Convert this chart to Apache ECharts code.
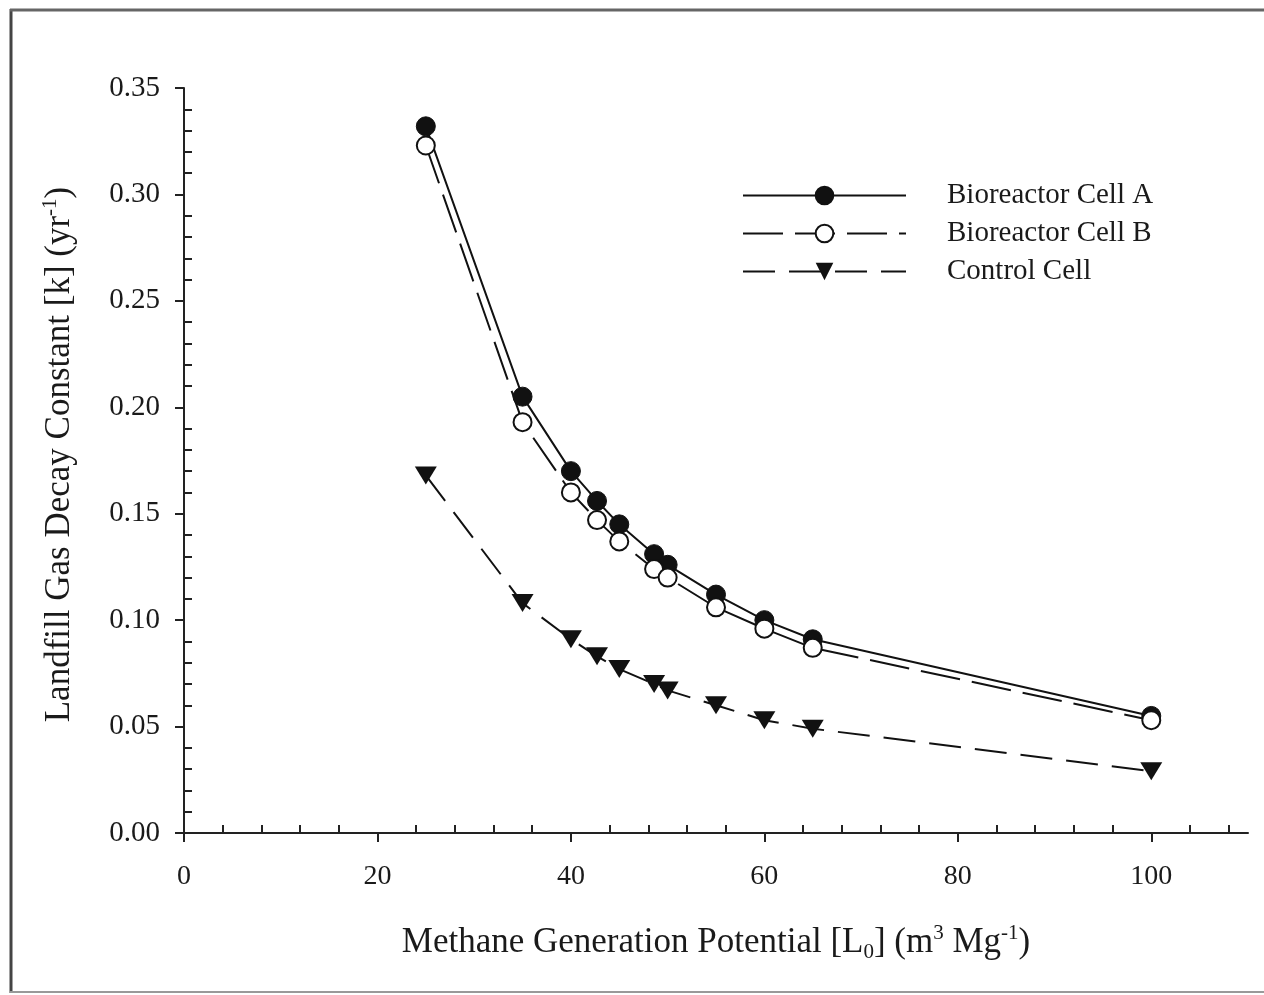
<!DOCTYPE html>
<html>
<head>
<meta charset="utf-8">
<script src="https://cdn.jsdelivr.net/npm/echarts@6/dist/echarts.min.js"></script>
<style>
html,body{margin:0;padding:0;background:#fff;}
#chart{width:1264px;height:995px;}
</style>
</head>
<body>
<div id="chart"></div>
<script>
// Data
const lValues = [25, 35, 40, 42.7, 45, 48.6, 50, 55, 60, 65, 100];
const cellA = [0.332, 0.205, 0.170, 0.156, 0.145, 0.131, 0.126, 0.112, 0.100, 0.091, 0.055];
const cellB = [0.323, 0.193, 0.160, 0.147, 0.137, 0.124, 0.120, 0.106, 0.096, 0.087, 0.053];
const controlCell = [0.168, 0.108, 0.091, 0.083, 0.077, 0.070, 0.067, 0.060, 0.053, 0.049, 0.029];
const seriesNames = ['Bioreactor Cell A', 'Bioreactor Cell B', 'Control Cell'];

// Tick positions
const xMajorTicks = [0, 20, 40, 60, 80, 100];
const xMinorTicks = [4, 8, 12, 16, 24, 28, 32, 36, 44, 48, 52, 56, 64, 68, 72, 76, 84, 88, 92, 96, 104, 108];
const yMajorTicks = [0, 0.05, 0.10, 0.15, 0.20, 0.25, 0.30, 0.35];
const yMinorTicks = [0.01, 0.02, 0.03, 0.04, 0.06, 0.07, 0.08, 0.09, 0.11, 0.12, 0.13, 0.14,
  0.16, 0.17, 0.18, 0.19, 0.21, 0.22, 0.23, 0.24, 0.26, 0.27, 0.28, 0.29, 0.31, 0.32, 0.33, 0.34];

function pairs(xs, ys) { return xs.map((x, i) => [x, ys[i]]); }

const FONT = '"Liberation Serif", "Times New Roman", serif';
const X_MIN = 0, X_MAX = 110, Y_MIN = 0, Y_MAX = 0.35;

const chart = echarts.init(document.getElementById('chart'), null, {renderer: 'canvas'});
chart.setOption({
  backgroundColor: '#ffffff',
  animation: false,
  textStyle: {fontFamily: FONT, color: '#1a1a1a'},
  grid: {left: 184, top: 88, width: 1064, height: 745, containLabel: false},
  legend: {
    orient: 'vertical',
    left: 737,
    top: 176,
    itemWidth: 163,
    itemHeight: 22,
    itemGap: 9,
    data: seriesNames,
    textStyle: {fontFamily: FONT, fontSize: 29, color: '#1a1a1a', padding: [0, 0, 0, 36], lineHeight: 22}
  },
  xAxis: [
    {
      type: 'value', min: X_MIN, max: X_MAX, interval: 20, position: 'bottom',
      axisLine: {show: true, onZero: false, lineStyle: {color: '#222', width: 2}},
      axisTick: {show: true, inside: false, length: 9, customValues: xMajorTicks, lineStyle: {color: '#222', width: 2}},
      axisLabel: {show: true, customValues: xMajorTicks, margin: 30, fontFamily: FONT, fontSize: 28, color: '#1a1a1a'},
      splitLine: {show: false},
      name: 'Methane Generation Potential [L{sub|0}] (m{sup|3} Mg{sup|-1})',
      nameLocation: 'middle',
      nameGap: 90,
      nameTextStyle: {
        fontFamily: FONT, fontSize: 35, color: '#1a1a1a', lineHeight: 40,
        rich: {
          sup: {fontFamily: FONT, fontSize: 21, verticalAlign: 'top', lineHeight: 24, color: '#1a1a1a'},
          sub: {fontFamily: FONT, fontSize: 21, verticalAlign: 'bottom', lineHeight: 24, color: '#1a1a1a'}
        }
      }
    },
    {
      type: 'value', min: X_MIN, max: X_MAX, position: 'bottom', gridIndex: 0,
      axisLine: {show: false, onZero: false},
      axisTick: {show: true, inside: true, length: 8, customValues: xMinorTicks, lineStyle: {color: '#222', width: 2}},
      axisLabel: {show: false},
      splitLine: {show: false}
    }
  ],
  yAxis: [
    {
      type: 'value', min: Y_MIN, max: Y_MAX, interval: 0.05, position: 'left',
      axisLine: {show: true, onZero: false, lineStyle: {color: '#222', width: 2}},
      axisTick: {show: true, inside: false, length: 9, customValues: yMajorTicks, lineStyle: {color: '#222', width: 2}},
      axisLabel: {show: true, customValues: yMajorTicks, margin: 24, fontFamily: FONT, fontSize: 29, color: '#1a1a1a',
        formatter: v => Number(v).toFixed(2)},
      splitLine: {show: false},
      name: 'Landfill Gas Decay Constant [k] (yr{sup|-1})',
      nameLocation: 'middle',
      nameGap: 104,
      nameTextStyle: {
        fontFamily: FONT, fontSize: 35, color: '#1a1a1a', lineHeight: 40,
        padding: [0, 0, 0, 12],
        rich: {
          sup: {fontFamily: FONT, fontSize: 21, verticalAlign: 'top', lineHeight: 24, color: '#1a1a1a'}
        }
      }
    },
    {
      type: 'value', min: Y_MIN, max: Y_MAX, position: 'left', gridIndex: 0,
      axisLine: {show: false, onZero: false},
      axisTick: {show: true, inside: true, length: 8, customValues: yMinorTicks, lineStyle: {color: '#222', width: 2}},
      axisLabel: {show: false},
      splitLine: {show: false}
    }
  ],
  series: [
    {
      name: seriesNames[0], type: 'line', xAxisIndex: 0, yAxisIndex: 0,
      data: pairs(lValues, cellA),
      symbol: 'circle', symbolSize: 19,
      lineStyle: {color: '#111', width: 2, type: 'solid'},
      itemStyle: {color: '#111', borderColor: '#111', borderWidth: 1}
    },
    {
      name: seriesNames[1], type: 'line', xAxisIndex: 0, yAxisIndex: 0,
      data: pairs(lValues, cellB),
      symbol: 'circle', symbolSize: 18,
      lineStyle: {color: '#111', width: 2, type: [40, 12]},
      itemStyle: {color: '#ffffff', borderColor: '#111', borderWidth: 2}
    },
    {
      name: seriesNames[2], type: 'line', xAxisIndex: 0, yAxisIndex: 0,
      data: pairs(lValues, controlCell),
      symbol: 'path://M0 0 L22 0 L11 18 Z', symbolSize: [22, 18],
      lineStyle: {color: '#111', width: 2, type: [32, 14]},
      itemStyle: {color: '#111', borderColor: '#111', borderWidth: 0}
    }
  ],
  graphic: [
    {type: 'line', silent: true, shape: {x1: 11, y1: 9, x2: 11, y2: 993}, style: {stroke: '#444', lineWidth: 3}},
    {type: 'line', silent: true, shape: {x1: 10, y1: 10, x2: 1264, y2: 10}, style: {stroke: '#666', lineWidth: 3}},
    {type: 'line', silent: true, shape: {x1: 10, y1: 992, x2: 1264, y2: 992}, style: {stroke: '#999', lineWidth: 2}}
  ]
});
</script>
</body>
</html>
